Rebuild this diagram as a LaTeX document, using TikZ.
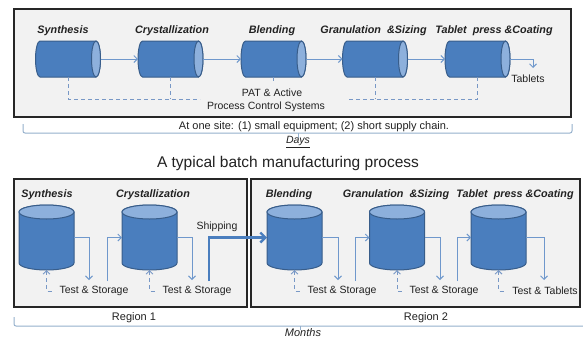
\documentclass[tikz,border=0pt]{standalone}
\usepackage{fontspec}
\setmainfont{Liberation Sans}
\usetikzlibrary{arrows.meta,calc}

\definecolor{cylfill}{HTML}{4A7EBE}
\definecolor{cylline}{HTML}{385D8A}
\definecolor{cylcap}{HTML}{8DB0DC}
\definecolor{flowblue}{HTML}{6F98CC}
\definecolor{dashblue}{HTML}{7898C6}
\definecolor{panel}{HTML}{F2F2F2}
\definecolor{bracecol}{HTML}{95B0CC}
\definecolor{ink}{HTML}{222222}

% horizontal drum inside a named slot node (cap on the right)
\newcommand\hdrum[1]{%
  \path[drumbody] ([xshift=4.5pt]#1.north west) -- ([xshift=-4.5pt]#1.north east)
    arc[start angle=90,end angle=-90,x radius=4.5pt,y radius=18pt]
    -- ([xshift=4.5pt]#1.south west)
    arc[start angle=270,end angle=90,x radius=4.5pt,y radius=18pt] -- cycle;
  \path[drumcap] ([xshift=-4.5pt]#1.east) ellipse[x radius=4.5pt,y radius=18pt];}
% upright drum inside a named slot node (cap on top)
\newcommand\vdrum[1]{%
  \path[drumbody] ([yshift=-7pt]#1.north west) -- ([yshift=7pt]#1.south west)
    arc[start angle=180,end angle=360,x radius=27.5pt,y radius=7pt]
    -- ([yshift=-7pt]#1.north east)
    arc[start angle=0,end angle=180,x radius=27.5pt,y radius=7pt] -- cycle;
  \path[drumcap] ([yshift=-7pt]#1.north) ellipse[x radius=27.5pt,y radius=7pt];}

\begin{document}
\begin{tikzpicture}[x=1pt,y=1pt,
  panelbox/.style={draw=black!85,line width=1.3pt,fill=panel},
  hslot/.style={inner sep=0,outer sep=0,minimum width=65pt,minimum height=36pt},
  vslot/.style={inner sep=0,outer sep=0,minimum width=55pt,minimum height=65pt},
  drumbody/.style={fill=cylfill,draw=cylline,line width=1pt},
  drumcap/.style={fill=cylcap,draw=cylline,line width=1pt},
  flow/.style={draw=flowblue,line width=1pt,-{Straight Barb[length=3.5pt,width=7pt]}},
  ship/.style={draw=cylfill,line width=2.4pt,-{Straight Barb[length=5pt,width=10pt]}},
  ctrl/.style={draw=dashblue,line width=0.9pt,dash pattern=on 4pt off 3pt},
  ctrlup/.style={ctrl,{Straight Barb[length=3.5pt,width=7pt]}-},
  stage/.style={font=\bfseries\itshape\fontsize{10.8}{12}\selectfont,text=ink,inner sep=0},
  note/.style={font=\fontsize{10.5}{12}\selectfont,text=ink,inner sep=0},
  small/.style={font=\fontsize{11}{12}\selectfont,text=ink,inner sep=0},
  brace/.style={draw=bracecol,line width=1pt,rounded corners=2pt}]

\useasboundingbox (0,0) rectangle (583,-338);
\fill[white] (0,0) rectangle (583,-338);

% ---------- continuous process ----------
\draw[panelbox] (14,-9) rectangle (571,-117);

\node[hslot] (c1) at (68,-59) {};
\node[hslot] (c2) at (170.5,-59) {};
\node[hslot] (c3) at (273.5,-59) {};
\node[hslot] (c4) at (375,-59) {};
\node[hslot] (c5) at (477.5,-59) {};
\foreach \c in {c1,c2,c3,c4,c5} {\hdrum{\c}}

\node[stage] (l1) at (63,-31) {Synthesis};
\node[stage] (l2) at (172,-31) {Crystallization};
\node[stage] (l3) at (272,-31) {Blending};
\node[stage] (l4) at (373.5,-31) {Granulation \ \&Sizing};
\node[stage] (l5) at (494,-31) {Tablet \ press \&Coating};

\draw[flow] (c1.east) -- (c2.west);
\draw[flow] (c2.east) -- (c3.west);
\draw[flow] (c3.east) -- (c4.west);
\draw[flow] (c4.east) -- (c5.west);
\coordinate (tabend) at (533,-68);
\draw[flow] (c5.east) -| (tabend);
\node[note] (tablets) at (528,-79) {Tablets};

\node[note] (pat) at (272,-93) {PAT \& Active};
\node[note] (pcs) at (266,-107) {Process Control Systems};

\coordinate (dl) at (200,-99);
\coordinate (dr) at (347,-99);
\draw[ctrl] (c1.south) |- (dl);
\draw[ctrl] (c2.south) -- (c2.south |- dl);
\draw[ctrl] (c3.south) -- ++(0,-6);
\draw[ctrl] (c5.south) |- (dr);
\draw[ctrl] (c4.south) -- (c4.south |- dr);

\draw[brace] (23,-124) -- (23,-133) -- (572,-133) -- (572,-124);
\draw[brace] (298,-133) -- (298,-138);
\node[small] (site) at (314,-127) {At one site: (1) small equipment; (2) short supply chain.};
\node[small,font=\itshape\fontsize{10.5}{11}\selectfont] (days) at (298,-142) {\underline{Days}};

\node[font=\fontsize{15.5}{17}\selectfont,text=ink,inner sep=0] (title) at (288,-163)
  {A typical batch manufacturing process};

% ---------- batch process ----------
\draw[panelbox] (14,-179) rectangle (247,-307);
\draw[panelbox] (251,-179) rectangle (580,-307);

\node[vslot] (b1) at (46.5,-237.5) {};
\node[vslot] (b2) at (149.5,-237.5) {};
\node[vslot] (b3) at (294.5,-237.5) {};
\node[vslot] (b4) at (397,-237.5) {};
\node[vslot] (b5) at (498.5,-237.5) {};
\foreach \b in {b1,b2,b3,b4,b5} {\vdrum{\b}}

\node[stage] (m1) at (47,-195) {Synthesis};
\node[stage] (m2) at (153,-195) {Crystallization};
\node[stage] (m3) at (289,-195) {Blending};
\node[stage] (m4) at (396,-195) {Granulation \ \&Sizing};
\node[stage] (m5) at (515,-195) {Tablet \ press \&Coating};

% outputs to test & storage
\coordinate (o1) at (89,-280);
\coordinate (o2) at (192,-280);
\coordinate (o3) at (338,-280);
\coordinate (o4) at (440,-280);
\coordinate (o5) at (544,-280);
\draw[flow] (b1.east) -| (o1);
\draw[flow] (b2.east) -| (o2);
\draw[flow] (b3.east) -| (o3);
\draw[flow] (b4.east) -| (o4);
\draw[flow] (b5.east) -| (o5);

% inputs from storage
\coordinate (i2) at (107,-281);
\coordinate (i4) at (355,-281);
\coordinate (i5) at (457,-281);
\draw[flow] (i2) |- (b2.west);
\draw[flow] (i4) |- (b4.west);
\draw[flow] (i5) |- (b5.west);
\coordinate (i3) at (209,-281);
\draw[ship] (i3) |- (b3.west);
\node[note] (shipping) at (217,-227) {Shipping};

% test loops
\foreach \b in {b1,b2,b3,b4,b5} {\draw[ctrlup] (\b.south) -- ++(0,-21) -- ++(6,0);}
\node[note] (t1) at (94,-291) {Test \& Storage};
\node[note] (t2) at (197,-291) {Test \& Storage};
\node[note] (t3) at (342,-291) {Test \& Storage};
\node[note] (t4) at (444,-291) {Test \& Storage};
\node[note] (t5) at (545,-291) {Test \& Tablets};

\node[note,font=\fontsize{11}{12}\selectfont] (r1) at (134,-318) {Region 1};
\node[note,font=\fontsize{11}{12}\selectfont] (r2) at (426,-318) {Region 2};

\draw[brace] (14,-317) -- (14,-326) -- (583,-326);
\draw[brace] (300,-326) -- (300,-330);
\node[small,font=\itshape\fontsize{11}{11}\selectfont] (months) at (303,-333) {Months};

\end{tikzpicture}
\end{document}
